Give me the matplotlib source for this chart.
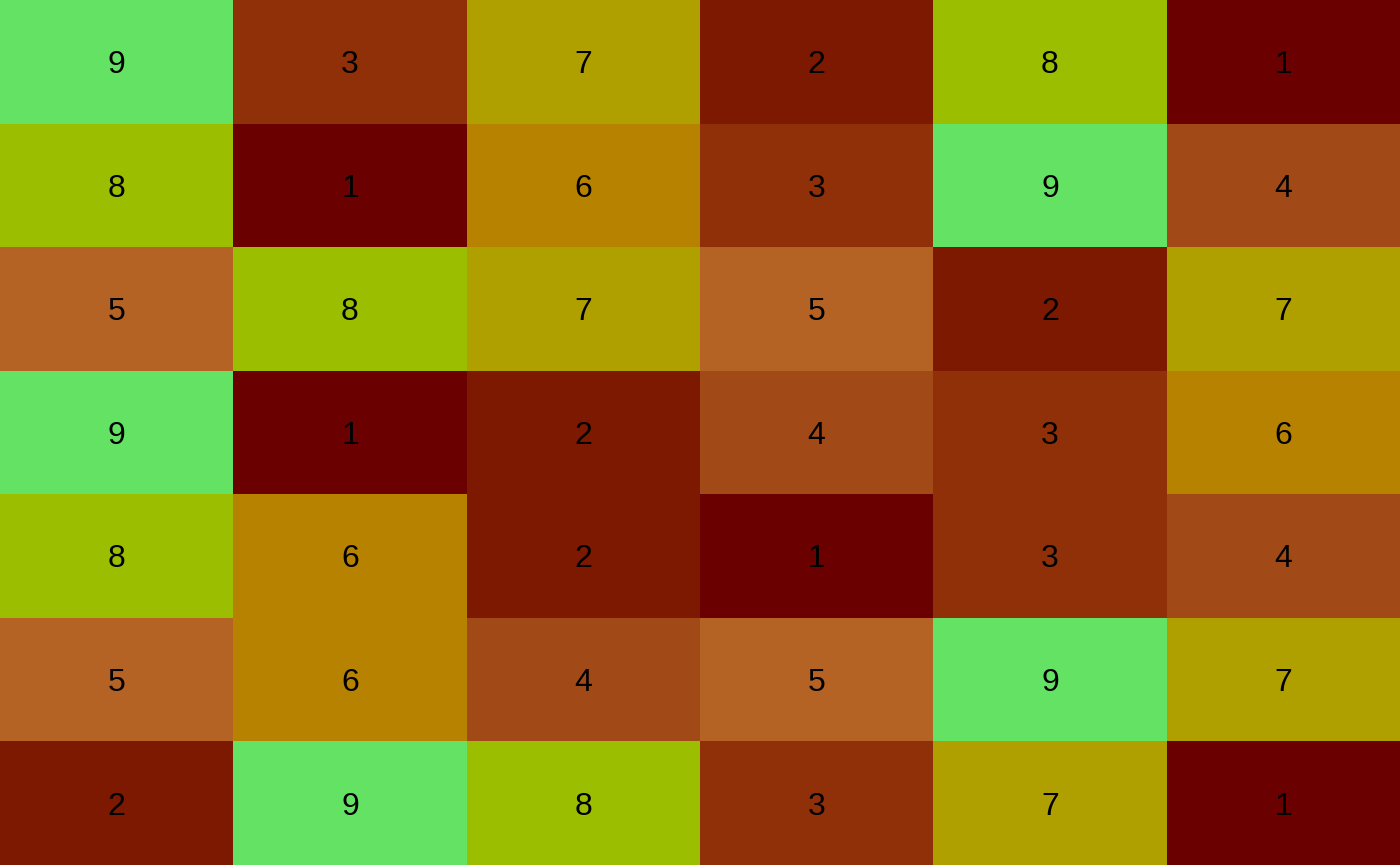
import numpy as np
import matplotlib
matplotlib.use("Agg")
import matplotlib.pyplot as plt
from matplotlib.colors import ListedColormap, BoundaryNorm

# grid values, top row first
values = [
    [9, 3, 7, 2, 8, 1],
    [8, 1, 6, 3, 9, 4],
    [5, 8, 7, 5, 2, 7],
    [9, 1, 2, 4, 3, 6],
    [8, 6, 2, 1, 3, 4],
    [5, 6, 4, 5, 9, 7],
    [2, 9, 8, 3, 7, 1],
]
levels = [1, 2, 3, 4, 5, 6, 7, 8, 9]
level_colors = ["#6b0000", "#7d1900", "#903008", "#a24a17", "#b56225",
                "#b78200", "#afa000", "#9bbf00", "#63e263"]

data = np.array(values)
nrows, ncols = data.shape

cmap = ListedColormap(level_colors)
norm = BoundaryNorm(np.arange(0.5, 10.5, 1), cmap.N)

fig = plt.figure(figsize=(14, 8.65), dpi=100)
ax = fig.add_axes([0, 0, 1, 1])
ax.pcolormesh(np.arange(ncols + 1), np.arange(nrows + 1), data, cmap=cmap, norm=norm)
ax.set_xlim(0, ncols)
ax.set_ylim(nrows, 0)
ax.axis("off")

# baseline sits half a digit below the cell centre
for i in range(nrows):
    for j in range(ncols):
        ax.text(j + 0.5, i + 0.5 + 0.092, str(data[i, j]), ha="center", va="baseline",
                fontsize=23, color="black", family=["Liberation Sans", "DejaVu Sans"])

fig.savefig("out.png", dpi=100)
